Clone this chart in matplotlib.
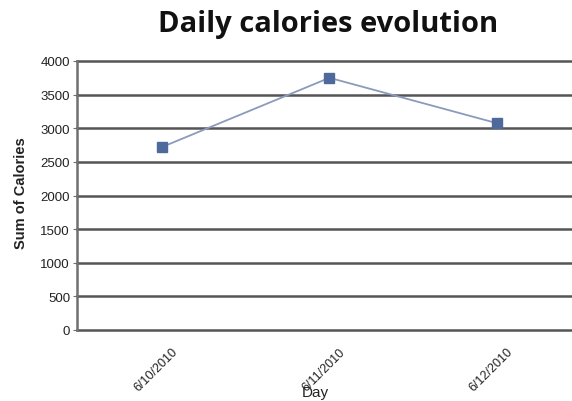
import matplotlib
matplotlib.use("Agg")
import matplotlib.pyplot as plt
from matplotlib.transforms import ScaledTranslation

days = ["6/10/2010", "6/11/2010", "6/12/2010"]
calories = [2720, 3750, 3075]
yticks = [0, 500, 1000, 1500, 2000, 2500, 3000, 3500, 4000]

fig = plt.figure(figsize=(5.72, 4.02), dpi=100)
ax = fig.add_axes([77 / 572, 1 - 331 / 402, 495 / 572, 269 / 402])

x = list(range(len(days)))
ax.set_xlim(-0.507, 2.448)
ax.set_ylim(0, 4000)

for v in yticks:
    ax.axhline(v, color="#555555", lw=1.8, zorder=1, clip_on=False)

ax.plot(x, calories, color="#8a9bbb", lw=1.3, marker="s", ms=7,
        markerfacecolor="#4e6a9c", markeredgecolor="#4e6a9c", zorder=3)

for s in ["top", "right", "bottom"]:
    ax.spines[s].set_visible(False)
ax.spines["left"].set_color("#707070")
ax.spines["left"].set_linewidth(1.8)

ax.set_yticks(yticks)
ax.set_yticklabels([str(v) for v in yticks], family="Liberation Sans",
                   fontsize=9.5, color="#222222")
ax.tick_params(axis="y", length=3, color="#707070", pad=2)
ax.set_xticks(x)
ax.set_xticklabels(days, rotation=45, ha="right", rotation_mode="anchor",
                   family="Liberation Sans", fontsize=9, color="#222222")
ax.tick_params(axis="x", length=0, pad=11)
shift = ScaledTranslation(7 / 72, 0, fig.dpi_scale_trans)
for lbl in ax.get_xticklabels():
    lbl.set_transform(lbl.get_transform() + shift)

fig.text(0.573, 0.938, "Daily calories evolution", ha="center", va="center",
         family="Open Sans", fontweight="bold", fontsize=21, color="#111111")
fig.text(0.036, 0.52, "Sum of Calories", rotation=90, ha="center", va="center",
         family="Liberation Sans", fontweight="bold", fontsize=10.5, color="#222222")
fig.text(0.551, 0.022, "Day", ha="center", va="center",
         family="Liberation Sans", fontsize=11, color="#222222")

fig.savefig("out.png", dpi=100)
